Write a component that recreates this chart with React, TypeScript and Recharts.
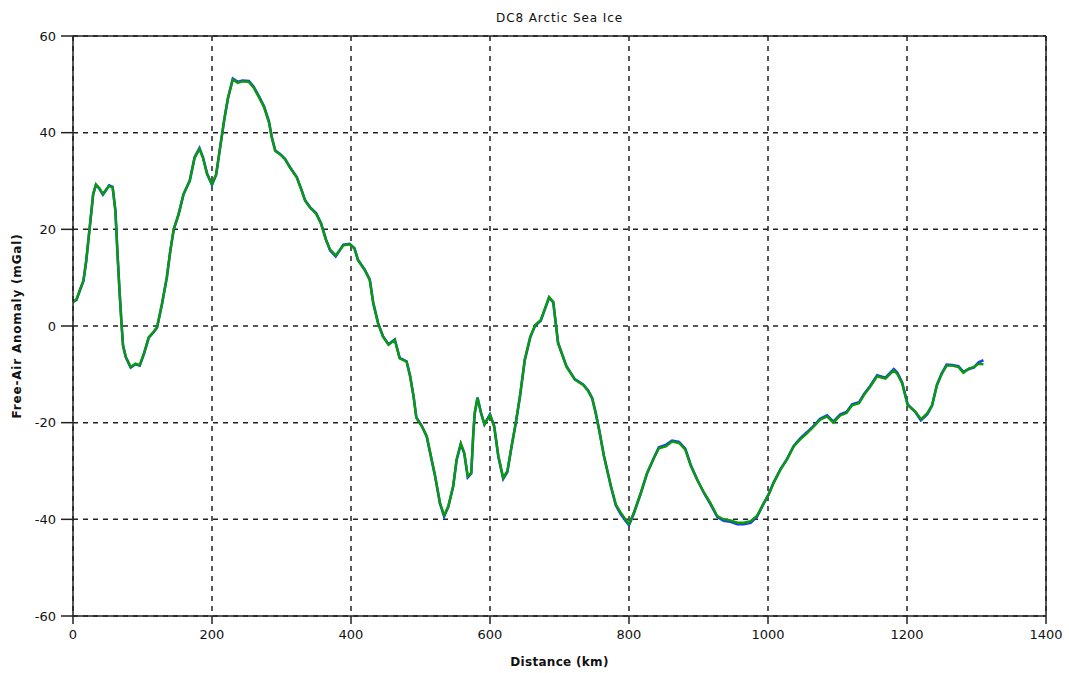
import React from 'react';
import {
  LineChart, Line, XAxis, YAxis, CartesianGrid, ReferenceLine
} from 'recharts';

// distance along the flight line (km)
const distanceKm = [
  0, 5, 10, 15, 19, 24, 29, 33, 38, 43, 48, 52, 57, 61, 64, 67, 70, 72, 76, 83,
  90, 96, 102, 109, 116, 121, 128, 135, 140, 145, 152, 159, 168, 175, 182, 187, 193, 200, 206, 213,
  218, 223, 230, 237, 244, 253, 260, 268, 275, 282, 286, 291, 298, 305, 312, 322, 329, 334, 341, 350,
  357, 364, 370, 378, 389, 398, 405, 410, 420, 427, 432, 439, 446, 454, 463, 470, 480, 485, 490, 494,
  502, 509, 516, 521, 528, 534, 540, 547, 552, 558, 563, 568, 573, 576, 578, 582, 587, 592, 600, 606,
  612, 619, 625, 631, 637, 643, 650, 658, 665, 673, 679, 685, 691, 698, 710, 722, 734, 741, 747, 752,
  757, 764, 774, 781, 788, 795, 800, 807, 817, 826, 836, 843, 853, 862, 872, 881, 889, 898, 908, 917,
  927, 936, 946, 956, 965, 975, 984, 994, 1001, 1008, 1018, 1027, 1037, 1046, 1056, 1066, 1075, 1085, 1094, 1104,
  1113, 1121, 1131, 1138, 1147, 1157, 1169, 1181, 1186, 1193, 1201, 1212, 1220, 1229, 1236, 1243, 1250, 1257, 1265, 1274,
  1281, 1289, 1296, 1303, 1310,
];

// free-air anomaly, green trace (mGal)
const greenAnomaly = [
  5.0, 5.5, 7.5, 9.4, 13.5, 20.4, 27.3, 29.3, 28.5, 27.3, 28.3, 29.0, 28.7, 23.8, 15.0, 7.0, 0.0, -4.0, -6.4, -8.5,
  -7.8, -8.1, -5.7, -2.3, -1.2, -0.2, 4.6, 10.1, 15.6, 20.1, 23.2, 27.3, 30.0, 34.8, 36.6, 34.8, 31.4, 29.3, 31.4, 38.3,
  43.1, 47.2, 51.0, 50.3, 50.6, 50.5, 49.3, 47.2, 45.2, 42.1, 39.0, 36.2, 35.5, 34.5, 32.8, 30.7, 28.0, 25.9, 24.5, 23.2,
  21.1, 17.8, 15.8, 14.6, 16.7, 16.9, 16.0, 13.6, 11.5, 9.5, 4.7, 0.5, -2.2, -3.9, -2.9, -6.7, -7.4, -10.4, -14.6, -19.0,
  -20.8, -22.8, -27.6, -31.0, -36.6, -39.2, -37.3, -33.1, -27.6, -24.3, -26.3, -31.1, -30.4, -22.1, -18.0, -14.9, -18.0, -20.4, -18.4, -20.8,
  -26.9, -31.4, -30.0, -24.9, -20.1, -14.6, -7.0, -2.2, 0.2, 1.2, 3.6, 6.0, 5.0, -3.6, -8.4, -11.1, -12.2, -13.4, -15.0, -18.0,
  -21.5, -27.0, -33.1, -36.9, -38.6, -40.0, -41.0, -38.6, -34.5, -30.4, -27.3, -25.3, -24.9, -23.9, -24.2, -25.6, -29.0, -31.8, -34.5, -36.6,
  -39.3, -40.0, -40.2, -40.7, -40.7, -40.4, -39.3, -36.6, -34.9, -32.5, -29.7, -27.7, -24.9, -23.5, -22.2, -20.8, -19.4, -18.7, -20.0, -18.5,
  -18.0, -16.4, -16.0, -14.3, -12.6, -10.4, -10.9, -9.2, -9.9, -11.9, -16.4, -17.7, -19.3, -18.1, -16.4, -12.3, -9.9, -8.2, -8.2, -8.5,
  -9.7, -8.8, -8.5, -7.8, -7.9,
];

// free-air anomaly, blue trace (mGal)
const blueAnomaly = [
  5.0, 5.4, 7.4, 9.3, 13.4, 20.3, 27.2, 29.2, 28.4, 27.2, 28.2, 29.1, 28.8, 23.9, 15.1, 7.1, 0.1, -4.1, -6.5, -8.6,
  -7.9, -8.2, -5.8, -2.4, -1.3, -0.3, 4.5, 10.0, 15.5, 20.0, 23.1, 27.2, 30.1, 34.9, 36.8, 34.9, 31.5, 29.2, 31.3, 38.2,
  43.0, 47.1, 51.2, 50.5, 50.8, 50.7, 49.5, 47.4, 45.4, 42.3, 39.1, 36.3, 35.6, 34.6, 32.9, 30.8, 28.1, 26.0, 24.6, 23.3,
  21.2, 17.9, 15.6, 14.4, 16.8, 17.0, 16.1, 13.7, 11.6, 9.6, 4.8, 0.6, -2.1, -3.8, -2.8, -6.6, -7.3, -10.3, -14.5, -18.9,
  -20.7, -22.9, -27.7, -31.1, -36.7, -39.4, -37.4, -33.2, -27.7, -24.4, -26.4, -31.3, -30.5, -22.2, -18.1, -14.8, -17.9, -20.3, -18.3, -20.7,
  -27.0, -31.6, -30.2, -25.0, -20.2, -14.7, -7.1, -2.3, 0.1, 1.1, 3.5, 5.9, 4.9, -3.5, -8.3, -11.0, -12.1, -13.3, -14.9, -17.9,
  -21.4, -26.9, -33.2, -37.1, -38.9, -40.3, -41.2, -38.8, -34.6, -30.5, -27.2, -25.1, -24.6, -23.7, -24.0, -25.4, -28.8, -31.7, -34.6, -36.8,
  -39.5, -40.3, -40.5, -41.0, -41.0, -40.7, -39.5, -36.7, -34.8, -32.4, -29.6, -27.6, -24.8, -23.3, -22.0, -20.6, -19.2, -18.5, -19.8, -18.3,
  -17.8, -16.2, -15.8, -14.1, -12.4, -10.2, -10.7, -8.9, -9.6, -11.7, -16.2, -17.8, -19.5, -18.3, -16.5, -12.2, -9.8, -8.0, -8.1, -8.3,
  -9.5, -8.9, -8.6, -7.5, -7.1,
];

const xMajorTicks = [0, 200, 400, 600, 800, 1000, 1200, 1400];
const xMinorTicks = [100, 300, 500, 700, 900, 1100, 1300];
const yMajorTicks = [-60, -40, -20, 0, 20, 40, 60];
const yMinorTicks = [-50, -30, -10, 10, 30, 50];

const data = distanceKm.map((km, i) => ({
  km,
  green: greenAnomaly[i],
  blue: blueAnomaly[i],
}));

const AXIS = '#222';
const tickStyle = { fontSize: 13, fill: '#111', fontFamily: 'DejaVu Sans' };

export default function App() {
  return (
    <div style={{ position: 'absolute', left: 0, top: 0, fontFamily: 'DejaVu Sans', background: '#fff' }}>
      <LineChart
        width={1069}
        height={673}
        data={data}
        margin={{ top: 36, right: 23, bottom: 5, left: 13 }}
      >
        <CartesianGrid stroke="#222" strokeDasharray="5 5" strokeWidth={1.5} />
        <XAxis
          xAxisId="minor"
          dataKey="km"
          type="number"
          domain={[0, 1400]}
          ticks={xMinorTicks}
          height={0}
          axisLine={false}
          tickSize={5}
          tickLine={{ stroke: AXIS, strokeWidth: 1.5 }}
          tickFormatter={() => ''}
        />
        <XAxis
          dataKey="km"
          type="number"
          domain={[0, 1400]}
          ticks={xMajorTicks}
          height={52}
          tickSize={8}
          tickMargin={6}
          axisLine={{ stroke: AXIS, strokeWidth: 1.5 }}
          tickLine={{ stroke: AXIS, strokeWidth: 1.5 }}
          tick={tickStyle}
          label={{ value: 'Distance (km)', position: 'insideBottom', offset: 2, fontSize: 12, fontWeight: 'bold', fill: '#111', style: { letterSpacing: '0.3px' } }}
        />
        <YAxis
          yAxisId="minor"
          type="number"
          domain={[-60, 60]}
          ticks={yMinorTicks}
          width={0}
          axisLine={false}
          tickSize={6}
          tickLine={{ stroke: AXIS, strokeWidth: 1.5 }}
          tickFormatter={() => ''}
        />
        <YAxis
          type="number"
          domain={[-60, 60]}
          ticks={yMajorTicks}
          width={60}
          tickSize={12}
          tickMargin={5}
          axisLine={{ stroke: AXIS, strokeWidth: 1.5 }}
          tickLine={{ stroke: AXIS, strokeWidth: 1.5 }}
          tick={tickStyle}
          label={{ value: 'Free-Air Anomaly (mGal)', angle: -90, position: 'insideLeft', offset: 4, fontSize: 12, fontWeight: 'bold', fill: '#111', style: { textAnchor: 'middle', letterSpacing: '0.8px' } }}
        />
        <ReferenceLine
          y={60}
          stroke={AXIS}
          strokeWidth={1.5}
          label={{ value: 'DC8 Arctic Sea Ice', position: 'top', offset: 14, fontSize: 12, fill: '#111', style: { letterSpacing: '0.9px' } }}
        />
        <ReferenceLine x={1400} stroke={AXIS} strokeWidth={1.5} />
        <Line
          type="linear"
          dataKey="blue"
          stroke="#1a3cff"
          strokeWidth={2.6}
          dot={false}
          isAnimationActive={false}
        />
        <Line
          type="linear"
          dataKey="green"
          stroke="#0a9a0a"
          strokeWidth={2.4}
          dot={false}
          isAnimationActive={false}
        />
      </LineChart>
    </div>
  );
}
